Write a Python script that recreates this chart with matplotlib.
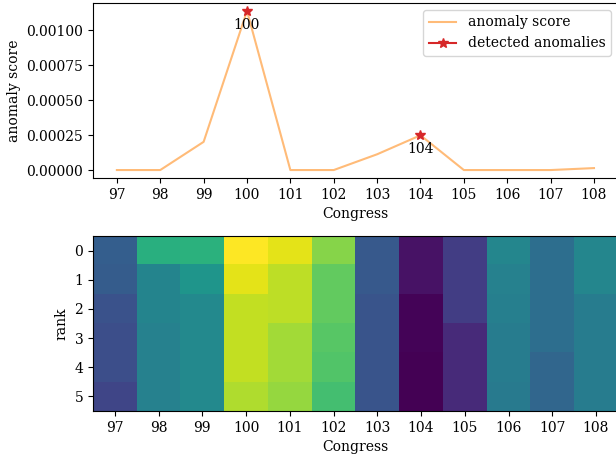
import numpy as np
import matplotlib
matplotlib.use("Agg")
import matplotlib.pyplot as plt

plt.rcParams['font.family'] = ['DejaVu Serif']
plt.rcParams['font.size'] = 10

congress = [97, 98, 99, 100, 101, 102, 103, 104, 105, 106, 107, 108]
score = [0.0, 0.0, 0.000202, 0.00114, 0.0, 0.0, 0.000113, 0.000249, 0.0, 0.0, 0.0, 0.000014]
anomalies = [100, 104]
ranks = [0, 1, 2, 3, 4, 5]

# heatmap values: rows = rank 0..5, columns = congress 97..108
heat = np.array([
    [0.30, 0.63, 0.64, 1.00, 0.96, 0.82, 0.28, 0.05, 0.18, 0.46, 0.36, 0.46],
    [0.29, 0.45, 0.52, 0.96, 0.90, 0.76, 0.28, 0.05, 0.18, 0.44, 0.36, 0.46],
    [0.25, 0.45, 0.47, 0.91, 0.90, 0.76, 0.26, 0.01, 0.18, 0.43, 0.36, 0.42],
    [0.24, 0.44, 0.47, 0.91, 0.86, 0.74, 0.26, 0.01, 0.12, 0.42, 0.36, 0.42],
    [0.24, 0.44, 0.47, 0.91, 0.86, 0.73, 0.26, 0.00, 0.12, 0.42, 0.33, 0.42],
    [0.21, 0.44, 0.47, 0.88, 0.84, 0.70, 0.26, 0.00, 0.12, 0.41, 0.33, 0.42],
])

fig = plt.figure(figsize=(6.16, 4.57), dpi=100)
ax1 = fig.add_axes([0.151, 0.6105, 0.852, 0.383])
ax2 = fig.add_axes([0.151, 0.1007, 0.852, 0.383])

ax1.plot(congress, score, color='#ffbb78', lw=1.5, label='anomaly score')
an_scores = [score[congress.index(c)] for c in anomalies]
ax1.plot(anomalies, an_scores, color='#d62728', marker='*', linestyle='None',
         markersize=7, label='_nolegend_')
ax1.plot([], [], color='#d62728', marker='*', markersize=7, label='detected anomalies')
for c, s in zip(anomalies, an_scores):
    ax1.annotate(str(c), (c, s), xytext=(0, -5), textcoords='offset points',
                 ha='center', va='top')
ax1.set_xticks(congress)
ax1.set_xlabel('Congress')
ax1.set_ylabel('anomaly score')
ax1.ticklabel_format(axis='y', style='plain')
ax1.yaxis.set_major_formatter(matplotlib.ticker.FormatStrFormatter('%.5f'))
ax1.set_yticks([0, 0.00025, 0.0005, 0.00075, 0.001])
ax1.legend(loc='upper right')

ax2.imshow(heat, aspect='auto', cmap='viridis',
           extent=(congress[0] - 0.5, congress[-1] + 0.5, ranks[-1] + 0.5, ranks[0] - 0.5))
ax2.set_xticks(congress)
ax2.set_yticks(ranks)
ax2.set_xlabel('Congress')
ax2.set_ylabel('rank')

fig.savefig('out.png', dpi=100)
